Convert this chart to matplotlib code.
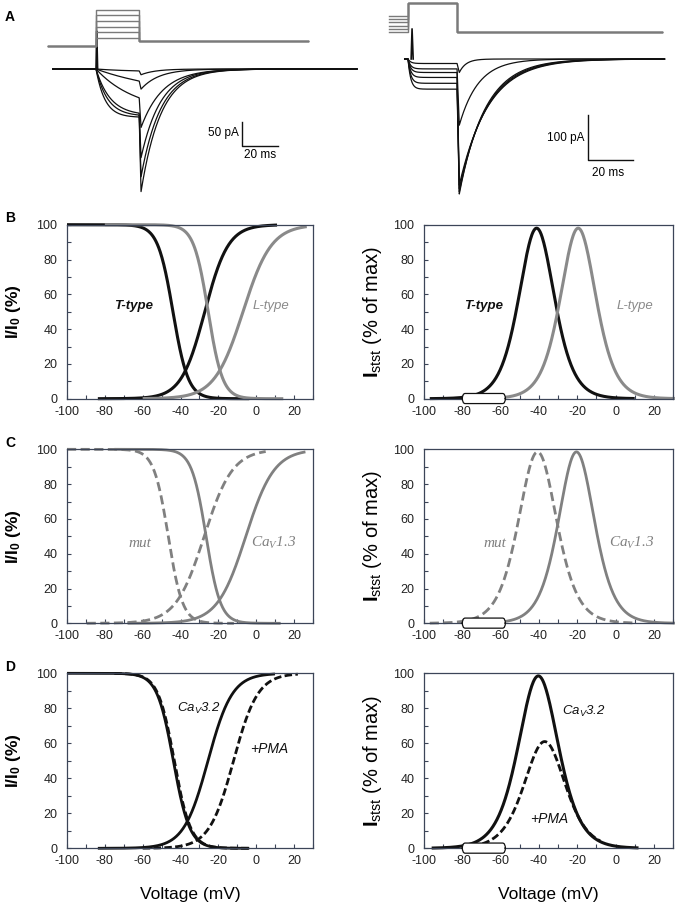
import numpy as np
import matplotlib
matplotlib.use("Agg")
import matplotlib.pyplot as plt
from matplotlib.patches import FancyBboxPatch
from matplotlib.ticker import MultipleLocator

plt.rcParams['font.family'] = ['Liberation Sans', 'DejaVu Sans']
plt.rcParams['mathtext.fontset'] = 'custom'
plt.rcParams['mathtext.rm'] = 'Liberation Sans'
plt.rcParams['mathtext.it'] = 'Liberation Sans:italic'
plt.rcParams['mathtext.bf'] = 'Liberation Sans:bold'
plt.rcParams['mathtext.sf'] = 'Liberation Serif:italic'
plt.rcParams['axes.unicode_minus'] = False

# ---------------- data ----------------
# Panel A, left recordings (ms, pA)
A1_step_end = [-4, -25, -60, -92, -96, -100]
A1_tail_peak = [-12, -42, -122, -185, -225, -256]
A1_tau_act = [20, 40, 22, 8, 6.5, 5]
A1_tau_tail = [8, 10, 12, 11, 11, 11]
A1_step_dur = 24.0
A1_t_range = [-24, 145]
A1_spike = 79
# Panel A, left voltage protocol (mV)
A1_hold = -75
A1_steps = [-60, -50, -40, -30, -20, -10]
A1_after = -65
A1_prot_t = [-26.7, 118]

# Panel A, right recordings (ms, pA)
A2_step_end = [-10, -22, -30, -41, -54, -67]
A2_tail_peak = [-30, -147, -280, -288, -295, -300]
A2_tau_act = [1.2, 1.2, 1.2, 1.2, 1.2, 1.2]
A2_tau_tail = [3, 8.5, 13, 12.5, 12, 11.5]
A2_step_dur = 21.8
A2_t_range = [-1.5, 114]
A2_spike = 67
# Panel A, right voltage protocol (mV)
A2_pre = [-60, -70, -80, -90, -100, -110]
A2_test = -20
A2_after = -110
A2_prot_t = [-8.4, 113]

# Scale bars
A1_bar_pA, A1_bar_ms = 50, 20
A2_bar_pA, A2_bar_ms = 100, 20

# Boltzmann curves (V1/2 mV, slope k mV; k>0 inactivation, k<0 activation), V ranges
B_vh = [-44.0, -27.2, -25.4, -7.0]
B_k = [4.0, -6.2, 3.8, -7.5]
B_vmin = [-100, -83.7, -80, -60]
B_vmax = [-3.7, 11.0, 14.3, 26.7]

C_vh = [-46.5, -27.5, -26.5, -5.5]
C_k = [3.8, -7.5, 3.8, -7.5]
C_vmin = [-100, -89.6, -75, -68]
C_vmax = [-11.8, 5.0, 12.9, 26.0]

D_vh = [-43.8, -25.5, -43.3, -12.0]
D_k = [4.3, -6.4, 4.3, -6.4]
D_vmin = [-100, -83.7, -75, -60]
D_vmax = [-3.7, 9.9, -3.7, 22.0]

# Window (steady-state) currents: centre (mV), width (mV), peak (% of max), V ranges
B_wc = [-41.2, -19.5]
B_wk = [6.2, 6.2]
B_wpeak = [98, 98]
B_wmin = [-97, -70]
B_wmax = [10, 31]

C_wc = [-40.7, -20.4]
C_wk = [6.7, 6.3]
C_wpeak = [98.5, 98.5]
C_wmin = [-97, -80]
C_wmax = [11, 31]

D_wc = [-40.3, -37.0]
D_wk = [7.0, 7.2]
D_wpeak = [98.5, 61]
D_wmin = [-96, -75]
D_wmax = [12, -8]

holding_box = [-80, -57.5]

x_ticks = [-100, -80, -60, -40, -20, 0, 20]
y_ticks = [0, 20, 40, 60, 80, 100]

# ---------------- figure ----------------
W, H = 679, 906
fig = plt.figure(figsize=(W / 100, H / 100), dpi=100)


def px_axes(x0, y0, x1, y1):
    return fig.add_axes([x0 / W, 1 - y1 / H, (x1 - x0) / W, (y1 - y0) / H])


BLACK = '#111111'
GRAY = '#8a8a8a'
GRAY_C = '#808080'
PROT = '#7a7a7a'
SPINE = '#3c4558'


def trace(t, step_end, tail_peak, tau_a, tau_t, dur):
    y = np.zeros_like(t)
    m = (t >= 0) & (t < dur)
    y[m] = step_end * (1 - np.exp(-t[m] / tau_a)) / (1 - np.exp(-dur / tau_a))
    m2 = (t >= dur) & (t < dur + 1.0)
    y[m2] = step_end + (tail_peak - step_end) * (t[m2] - dur) / 1.0
    m3 = t >= dur + 1.0
    y[m3] = tail_peak * np.exp(-(t[m3] - dur - 1.0) / tau_t)
    return y


# ---- Panel A left ----
axc1 = px_axes(40, 20, 365, 200)
axc1.set_xlim((40 - 96) / 1.8, (365 - 96) / 1.8)
axc1.set_ylim((69 - 200) / 0.48, (69 - 20) / 0.48)
axc1.axis('off')
t1 = np.linspace(A1_t_range[0], A1_t_range[1], 3000)
for se, tp, ta, tt in zip(A1_step_end, A1_tail_peak, A1_tau_act, A1_tau_tail):
    axc1.plot(t1, trace(t1, se, tp, ta, tt, A1_step_dur), color=BLACK, lw=0.9)
axc1.plot([0, 0.4, 0.9], [0, A1_spike, 0], color=BLACK, lw=1.2, clip_on=False)
bx, by = 81.1, -160.4
axc1.plot([bx, bx, bx + A1_bar_ms], [by + A1_bar_pA, by, by], color=BLACK, lw=1.0)
axc1.text(bx - 1.5, by + A1_bar_pA * 0.55, f"{A1_bar_pA} pA", ha='right', va='center', fontsize=8.5)
axc1.text(bx + A1_bar_ms / 2, by - 19, f"{A1_bar_ms} ms", ha='center', va='center', fontsize=8.5)

axp1 = px_axes(40, 0, 330, 60)
axp1.set_xlim((40 - 96) / 1.8, (330 - 96) / 1.8)
axp1.set_ylim(A1_hold - (60 - 46.5) / 0.566, A1_hold + 46.5 / 0.566)
axp1.axis('off')
for s in A1_steps:
    axp1.plot([A1_prot_t[0], 0, 0, A1_step_dur, A1_step_dur, A1_prot_t[1]],
              [A1_hold, A1_hold, s, s, A1_after, A1_after], color=PROT, lw=1.0)

# ---- Panel A right ----
axc2 = px_axes(380, 20, 679, 200)
axc2.set_xlim((380 - 408) / 2.25, (679 - 408) / 2.25)
axc2.set_ylim((59 - 200) / 0.45, (59 - 20) / 0.45)
axc2.axis('off')
t2 = np.linspace(A2_t_range[0], A2_t_range[1], 3000)
for se, tp, ta, tt in zip(A2_step_end, A2_tail_peak, A2_tau_act, A2_tau_tail):
    axc2.plot(t2, trace(t2, se, tp, ta, tt, A2_step_dur), color=BLACK, lw=0.9)
axc2.plot([1.4, 1.8, 2.3], [0, A2_spike, 0], color=BLACK, lw=1.2, clip_on=False)
bx2, by2 = 80.0, -224.4
axc2.plot([bx2, bx2, bx2 + A2_bar_ms], [by2 + A2_bar_pA, by2, by2], color=BLACK, lw=1.0)
axc2.text(bx2 - 1.6, by2 + A2_bar_pA * 0.49, f"{A2_bar_pA} pA", ha='right', va='center', fontsize=8.5)
axc2.text(bx2 + A2_bar_ms * 0.45, by2 - 29, f"{A2_bar_ms} ms", ha='center', va='center', fontsize=8.5)

axp2 = px_axes(380, 0, 679, 45)
axp2.set_xlim((380 - 408) / 2.25, (679 - 408) / 2.25)
axp2.set_ylim(A2_after - (45 - 32.3) / 0.33, A2_after + 32.3 / 0.33)
axp2.axis('off')
for p in A2_pre:
    axp2.plot([A2_prot_t[0], 0, 0, A2_step_dur, A2_step_dur, A2_prot_t[1]],
              [p, p, A2_test, A2_test, A2_after, A2_after], color=PROT, lw=1.0, clip_on=False)


# ---- curve panels ----
def style_axes(ax):
    ax.set_xlim(-100, 30)
    ax.set_ylim(0, 100)
    ax.set_xticks(x_ticks)
    ax.set_yticks(y_ticks)
    ax.xaxis.set_minor_locator(MultipleLocator(10))
    ax.yaxis.set_minor_locator(MultipleLocator(10))
    ax.tick_params(which='both', direction='in', length=3, width=0.8, color=SPINE,
                   labelsize=9, labelcolor='#222222')
    ax.tick_params(axis='y', which='major', pad=7)
    ax.tick_params(axis='x', which='major', pad=5)
    for sp in ax.spines.values():
        sp.set_color(SPINE)
        sp.set_linewidth(0.9)


def sig(V, vh, k):
    return 100.0 / (1.0 + np.exp((V - vh) / k))


def win(V, vc, k, peak):
    return peak / np.cosh((V - vc) / (2 * k)) ** 2


rows = [(224.7, 398.7), (449.3, 623.3), (673.3, 848.3)]
lx = (67, 313)
rx = (424, 673)

boltz = [(B_vh, B_k, B_vmin, B_vmax), (C_vh, C_k, C_vmin, C_vmax), (D_vh, D_k, D_vmin, D_vmax)]
wins = [(B_wc, B_wk, B_wpeak, B_wmin, B_wmax), (C_wc, C_wk, C_wpeak, C_wmin, C_wmax),
        (D_wc, D_wk, D_wpeak, D_wmin, D_wmax)]

dC = (3.3, 1.6)
dD = (2.7, 1.2)
left_styles = [
    [(BLACK, None, 2.2), (BLACK, None, 2.2), (GRAY, None, 2.2), (GRAY, None, 2.2)],
    [(GRAY_C, dC, 2.0), (GRAY_C, dC, 2.0), (GRAY_C, None, 2.0), (GRAY_C, None, 2.0)],
    [(BLACK, None, 2.0), (BLACK, None, 2.0), (BLACK, dD, 2.0), (BLACK, dD, 2.0)],
]
right_styles = [
    [(BLACK, None, 2.2), (GRAY, None, 2.2)],
    [(GRAY_C, dC, 2.0), (GRAY_C, None, 2.0)],
    [(BLACK, None, 2.2), (BLACK, dD, 2.0)],
]

sans_bi = dict(family=['Liberation Sans', 'DejaVu Sans'], style='italic', weight='bold')
sans_i = dict(family=['Liberation Sans', 'DejaVu Sans'], style='italic')
serif_i = dict(family=['Liberation Serif', 'DejaVu Serif'], style='italic')

left_labels = [
    [("T-type", -64.8, 53, BLACK, sans_bi, 9.5), ("L-type", 7.6, 53, GRAY, sans_i, 9.5)],
    [("mut", -61.3, 46, GRAY_C, serif_i, 11), ("Ca$_{\\mathsf{V}}$1.3", 9.4, 46, GRAY_C, serif_i, 11)],
    [("Ca$_{V}$3.2", -30.4, 80, BLACK, sans_i, 9.5), ("+PMA", 6.7, 57, BLACK, sans_i, 10)],
]
right_labels = [
    [("T-type", -69, 53, BLACK, sans_bi, 9.5), ("L-type", 10.4, 53, GRAY, sans_i, 9.5)],
    [("mut", -63.2, 46, GRAY_C, serif_i, 11), ("Ca$_{\\mathsf{V}}$1.3", 8.6, 46, GRAY_C, serif_i, 11)],
    [("Ca$_{V}$3.2", -16.4, 78, BLACK, sans_i, 9.5), ("+PMA", -34.5, 16.5, BLACK, sans_i, 10)],
]

for r, (y0, y1) in enumerate(rows):
    axl = px_axes(lx[0], y0, lx[1], y1)
    style_axes(axl)
    vh, kk, vmin, vmax = boltz[r]
    for i in range(4):
        V = np.linspace(vmin[i], vmax[i], 400)
        c, d, lw = left_styles[r][i]
        ln, = axl.plot(V, sig(V, vh[i], kk[i]), color=c, lw=lw, clip_on=False, solid_capstyle='butt')
        if d is not None:
            ln.set_dashes(d)
    for txt, x, y, c, fp, fs in left_labels[r]:
        axl.text(x, y, txt, color=c, fontsize=fs, ha='center', va='center', **fp)
    axl.set_ylabel("$\\mathbf{I/I_0}$ (%)", fontsize=12.5, fontweight='bold')
    axl.yaxis.set_label_coords(-0.18, 0.5)

    axr = px_axes(rx[0], y0, rx[1], y1)
    style_axes(axr)
    wc, wk, wp, wmin, wmax = wins[r]
    for i in range(2):
        V = np.linspace(wmin[i], wmax[i], 400)
        c, d, lw = right_styles[r][i]
        ln, = axr.plot(V, win(V, wc[i], wk[i], wp[i]), color=c, lw=lw, clip_on=False, solid_capstyle='butt')
        if d is not None:
            ln.set_dashes(d)
    for txt, x, y, c, fp, fs in right_labels[r]:
        axr.text(x, y, txt, color=c, fontsize=fs, ha='center', va='center', **fp)
    box = FancyBboxPatch((holding_box[0], -2.8), holding_box[1] - holding_box[0], 5.8,
                         boxstyle="round,pad=0,rounding_size=1.5", mutation_aspect=2.2,
                         facecolor='white', edgecolor=BLACK, lw=0.9, zorder=6, clip_on=False)
    axr.add_patch(box)
    axr.set_ylabel("$\\mathbf{I}_{\\mathrm{stst}}$ (% of max)", fontsize=14.5)
    axr.yaxis.set_label_coords(-0.16, 0.5)

    if r == 2:
        axl.set_xlabel("Voltage (mV)", fontsize=12.5, labelpad=14)
        axr.set_xlabel("Voltage (mV)", fontsize=12.5, labelpad=14)

# panel letters
for letter, yy in zip("ABCD", [17, 218, 443, 667]):
    fig.text(5 / W, 1 - yy / H, letter, fontsize=10, fontweight='bold', ha='left', va='center')

fig.savefig("out.png", dpi=100)
